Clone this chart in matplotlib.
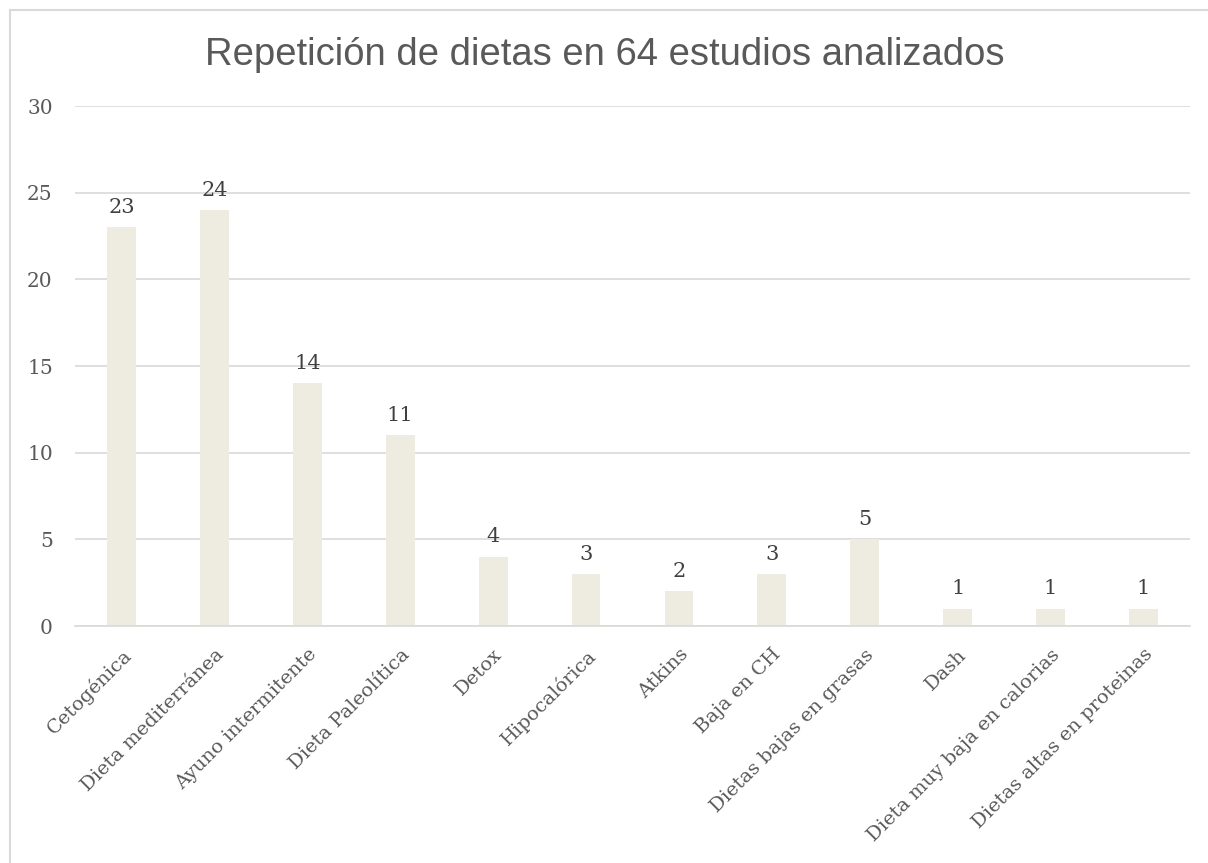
import matplotlib.pyplot as plt
from matplotlib.lines import Line2D

dietas = ["Cetogénica", "Dieta mediterránea", "Ayuno intermitente", "Dieta Paleolítica",
          "Detox", "Hipocalórica", "Atkins", "Baja en CH", "Dietas bajas en grasas",
          "Dash", "Dieta muy baja en calorias", "Dietas altas en proteinas"]
estudios = [23, 24, 14, 11, 4, 3, 2, 3, 5, 1, 1, 1]
yticks = [0, 5, 10, 15, 20, 25, 30]

W, H = 1208, 863
fig = plt.figure(figsize=(W / 100, H / 100), dpi=100)
ax = fig.add_axes([75 / W, 1 - 626 / H, (1190 - 75) / W, (626 - 106) / H])

serif = "DejaVu Serif"
gris = "#595959"

x = range(len(dietas))
bars = ax.bar(x, estudios, width=0.31, color="#EEEBE0", zorder=2)
for b, v in zip(bars, estudios):
    ax.text(b.get_x() + b.get_width() / 2, v + 0.6, str(v), ha="center", va="bottom",
            fontsize=15, family=serif, color="#404040")

ax.set_xlim(-0.5, len(dietas) - 0.5)
ax.set_ylim(0, 30)
ax.set_yticks(yticks)
ax.set_yticklabels([str(t) for t in yticks], family=serif, fontsize=14.5, color=gris)
ax.set_xticks(list(x))
ax.set_xticklabels(dietas, rotation=45, ha="right", rotation_mode="anchor",
                   family=serif, fontsize=14, color=gris)
ax.tick_params(axis="both", length=0)
ax.tick_params(axis="y", pad=16)
ax.tick_params(axis="x", pad=14)
ax.grid(axis="y", color="#D9D9D9", linewidth=1.2, zorder=0)
for s in ["top", "right", "left"]:
    ax.spines[s].set_visible(False)
ax.spines["bottom"].set_color("#D9D9D9")
ax.spines["bottom"].set_linewidth(1.2)

fig.text(605 / W, 1 - 55 / H, "Repetición de dietas en 64 estudios analizados",
         ha="center", va="center", fontsize=27.5, family="Liberation Sans", color=gris)

# chart frame (top and left edges)
fig.add_artist(Line2D([9.5 / W, 1], [1 - 10 / H, 1 - 10 / H], color="#D9D9D9", lw=1.5))
fig.add_artist(Line2D([9.5 / W, 9.5 / W], [0, 1 - 10 / H], color="#D9D9D9", lw=1.5))

fig.savefig("out.png", dpi=100)
